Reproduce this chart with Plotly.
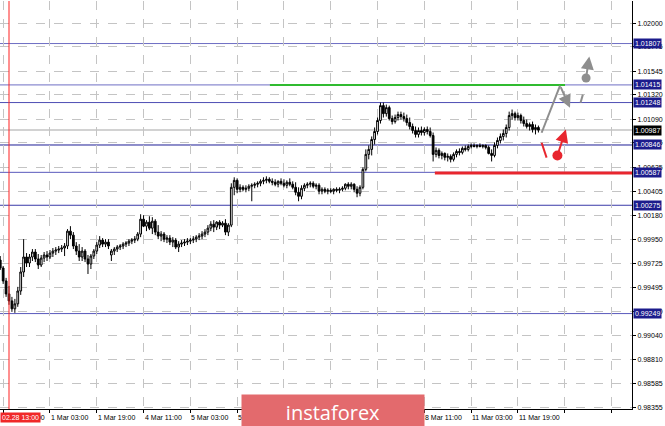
import plotly.graph_objects as go

# EURCHF-like H1 candles, bar index 0 = 02.28 13:00 (trading hours only)
bar_index = list(range(-3, 182))

bar_open = [
    0.99756, 0.99681, 0.99558, 0.99435, 0.99369, 0.99294, 0.99341, 0.99463, 0.99643, 0.99785,
    0.99728, 0.99785, 0.99832, 0.99766, 0.99709, 0.99775, 0.99804, 0.99785, 0.99822, 0.99841,
    0.99851, 0.99860, 0.99870, 0.99889, 1.00030, 0.99992, 0.99889, 0.99841, 0.99785, 0.99841,
    0.99766, 0.99718, 0.99794, 0.99841, 0.99898, 0.99945, 0.99907, 0.99926, 0.99804, 0.99841,
    0.99860, 0.99879, 0.99889, 0.99907, 0.99917, 0.99935, 0.99945, 0.99954, 1.00002, 1.00143,
    1.00077, 1.00115, 1.00058, 1.00124, 1.00021, 0.99983, 1.00002, 0.99954, 0.99964, 0.99926,
    0.99945, 0.99879, 0.99907, 0.99917, 0.99926, 0.99935, 0.99945, 0.99954, 0.99973, 0.99983,
    1.00002, 1.00021, 1.00058, 1.00096, 1.00068, 1.00115, 1.00087, 1.00105, 1.00021, 1.00087,
    1.00445, 1.00511, 1.00426, 1.00445, 1.00426, 1.00436, 1.00455, 1.00464, 1.00474, 1.00483,
    1.00502, 1.00511, 1.00521, 1.00502, 1.00493, 1.00474, 1.00502, 1.00483, 1.00464, 1.00493,
    1.00474, 1.00445, 1.00398, 1.00360, 1.00436, 1.00464, 1.00474, 1.00483, 1.00455, 1.00464,
    1.00408, 1.00426, 1.00408, 1.00417, 1.00408, 1.00426, 1.00417, 1.00426, 1.00436, 1.00474,
    1.00455, 1.00474, 1.00426, 1.00389, 1.00445, 1.00615, 1.00757, 1.00804, 1.00898, 1.00974,
    1.01078, 1.01219, 1.01143, 1.01200, 1.01096, 1.01068, 1.01106, 1.01134, 1.01115, 1.01096,
    1.01059, 1.01021, 1.00983, 1.00946, 1.00983, 1.00964, 1.00993, 1.00974, 1.00936, 1.00757,
    1.00795, 1.00747, 1.00766, 1.00729, 1.00738, 1.00710, 1.00757, 1.00785, 1.00776, 1.00814,
    1.00804, 1.00832, 1.00842, 1.00832, 1.00842, 1.00832, 1.00842, 1.00823, 1.00766, 1.00747,
    1.00842, 1.00889, 1.00927, 1.00955, 1.01012, 1.01125, 1.01143, 1.01106, 1.01125, 1.01078,
    1.01049, 1.01021, 1.01040, 1.00993, 1.01012,
]
bar_high = [
    0.99794, 0.99700, 0.99587, 0.99511, 0.99407, 0.99388, 0.99502, 0.99690, 0.99954, 0.99822,
    0.99813, 0.99860, 0.99860, 0.99813, 0.99804, 0.99832, 0.99841, 0.99851, 0.99870, 0.99879,
    0.99889, 0.99898, 0.99917, 1.00049, 1.00077, 1.00021, 0.99926, 0.99907, 0.99879, 0.99860,
    0.99804, 0.99813, 0.99860, 0.99926, 0.99983, 0.99964, 0.99954, 0.99954, 0.99860, 0.99879,
    0.99898, 0.99907, 0.99926, 0.99935, 0.99954, 0.99964, 0.99983, 1.00021, 1.00190, 1.00181,
    1.00134, 1.00171, 1.00162, 1.00143, 1.00087, 1.00030, 1.00021, 0.99992, 0.99992, 0.99973,
    0.99964, 0.99935, 0.99945, 0.99954, 0.99964, 0.99964, 0.99983, 0.99992, 1.00011, 1.00030,
    1.00049, 1.00087, 1.00124, 1.00134, 1.00124, 1.00134, 1.00124, 1.00143, 1.00105, 1.00483,
    1.00540, 1.00530, 1.00474, 1.00464, 1.00464, 1.00474, 1.00483, 1.00493, 1.00502, 1.00521,
    1.00540, 1.00549, 1.00540, 1.00530, 1.00521, 1.00511, 1.00530, 1.00521, 1.00511, 1.00530,
    1.00502, 1.00493, 1.00445, 1.00464, 1.00483, 1.00493, 1.00502, 1.00502, 1.00483, 1.00483,
    1.00445, 1.00445, 1.00436, 1.00436, 1.00436, 1.00445, 1.00445, 1.00455, 1.00483, 1.00493,
    1.00493, 1.00483, 1.00455, 1.00464, 1.00634, 1.00804, 1.00842, 1.00927, 1.01012, 1.01106,
    1.01248, 1.01248, 1.01229, 1.01219, 1.01125, 1.01134, 1.01162, 1.01162, 1.01153, 1.01134,
    1.01106, 1.01049, 1.01021, 1.01012, 1.01021, 1.01012, 1.01021, 1.01012, 1.00964, 1.00823,
    1.00814, 1.00785, 1.00776, 1.00766, 1.00757, 1.00776, 1.00804, 1.00814, 1.00832, 1.00842,
    1.00851, 1.00861, 1.00861, 1.00851, 1.00861, 1.00851, 1.00851, 1.00842, 1.00804, 1.00870,
    1.00917, 1.00955, 1.00993, 1.01040, 1.01162, 1.01182, 1.01162, 1.01153, 1.01143, 1.01115,
    1.01087, 1.01059, 1.01068, 1.01040, 1.01030,
]
bar_low = [
    0.99662, 0.99530, 0.99407, 0.99332, 0.99265, 0.99256, 0.99313, 0.99426, 0.99596, 0.99690,
    0.99690, 0.99747, 0.99737, 0.99671, 0.99690, 0.99737, 0.99747, 0.99766, 0.99785, 0.99804,
    0.99822, 0.99832, 0.99794, 0.99860, 0.99954, 0.99860, 0.99804, 0.99747, 0.99747, 0.99737,
    0.99624, 0.99671, 0.99766, 0.99813, 0.99870, 0.99879, 0.99879, 0.99860, 0.99747, 0.99804,
    0.99832, 0.99851, 0.99860, 0.99879, 0.99889, 0.99907, 0.99917, 0.99935, 0.99973, 1.00068,
    1.00030, 1.00040, 1.00002, 0.99992, 0.99954, 0.99935, 0.99926, 0.99917, 0.99898, 0.99879,
    0.99860, 0.99832, 0.99879, 0.99889, 0.99898, 0.99907, 0.99917, 0.99926, 0.99945, 0.99954,
    0.99973, 0.99992, 1.00030, 1.00021, 1.00040, 1.00049, 1.00068, 0.99992, 0.99983, 1.00068,
    1.00370, 1.00389, 1.00398, 1.00408, 1.00398, 1.00408, 1.00313, 1.00436, 1.00445, 1.00455,
    1.00474, 1.00483, 1.00483, 1.00464, 1.00455, 1.00445, 1.00464, 1.00445, 1.00436, 1.00455,
    1.00426, 1.00370, 1.00313, 1.00332, 1.00408, 1.00436, 1.00445, 1.00436, 1.00426, 1.00379,
    1.00379, 1.00389, 1.00379, 1.00389, 1.00379, 1.00398, 1.00389, 1.00408, 1.00417, 1.00426,
    1.00426, 1.00398, 1.00351, 1.00360, 1.00426, 1.00596, 1.00710, 1.00747, 1.00851, 1.00946,
    1.01049, 1.01106, 1.01115, 1.01078, 1.01040, 1.01049, 1.01078, 1.01087, 1.01068, 1.01030,
    1.00993, 1.00955, 1.00917, 1.00917, 1.00936, 1.00936, 1.00946, 1.00917, 1.00690, 1.00729,
    1.00719, 1.00710, 1.00700, 1.00690, 1.00681, 1.00690, 1.00729, 1.00747, 1.00757, 1.00785,
    1.00785, 1.00814, 1.00823, 1.00814, 1.00823, 1.00814, 1.00804, 1.00757, 1.00690, 1.00729,
    1.00814, 1.00861, 1.00889, 1.00917, 1.00983, 1.01087, 1.01078, 1.01078, 1.01049, 1.01021,
    1.01002, 1.00983, 1.00964, 1.00946, 1.00964,
]
bar_close = [
    0.99681, 0.99558, 0.99435, 0.99369, 0.99294, 0.99341, 0.99463, 0.99643, 0.99785, 0.99728,
    0.99785, 0.99832, 0.99766, 0.99709, 0.99775, 0.99804, 0.99785, 0.99822, 0.99841, 0.99851,
    0.99860, 0.99870, 0.99889, 1.00030, 0.99992, 0.99889, 0.99841, 0.99785, 0.99841, 0.99766,
    0.99718, 0.99794, 0.99841, 0.99898, 0.99945, 0.99907, 0.99926, 0.99889, 0.99841, 0.99860,
    0.99879, 0.99889, 0.99907, 0.99917, 0.99935, 0.99945, 0.99954, 1.00002, 1.00143, 1.00077,
    1.00115, 1.00058, 1.00124, 1.00021, 0.99983, 1.00002, 0.99954, 0.99964, 0.99926, 0.99945,
    0.99879, 0.99907, 0.99917, 0.99926, 0.99935, 0.99945, 0.99954, 0.99973, 0.99983, 1.00002,
    1.00021, 1.00058, 1.00096, 1.00068, 1.00115, 1.00087, 1.00105, 1.00021, 1.00087, 1.00445,
    1.00511, 1.00426, 1.00445, 1.00426, 1.00436, 1.00455, 1.00464, 1.00474, 1.00483, 1.00502,
    1.00511, 1.00521, 1.00502, 1.00493, 1.00474, 1.00502, 1.00483, 1.00464, 1.00493, 1.00474,
    1.00445, 1.00398, 1.00360, 1.00436, 1.00464, 1.00474, 1.00483, 1.00455, 1.00464, 1.00408,
    1.00426, 1.00408, 1.00417, 1.00408, 1.00426, 1.00417, 1.00426, 1.00436, 1.00474, 1.00455,
    1.00474, 1.00426, 1.00389, 1.00445, 1.00615, 1.00757, 1.00804, 1.00898, 1.00974, 1.01078,
    1.01219, 1.01143, 1.01200, 1.01096, 1.01068, 1.01106, 1.01134, 1.01115, 1.01096, 1.01059,
    1.01021, 1.00983, 1.00946, 1.00983, 1.00964, 1.00993, 1.00974, 1.00936, 1.00757, 1.00795,
    1.00747, 1.00766, 1.00729, 1.00738, 1.00710, 1.00757, 1.00785, 1.00776, 1.00814, 1.00804,
    1.00832, 1.00842, 1.00832, 1.00842, 1.00832, 1.00842, 1.00823, 1.00766, 1.00747, 1.00842,
    1.00889, 1.00927, 1.00955, 1.01012, 1.01125, 1.01143, 1.01106, 1.01125, 1.01078, 1.01049,
    1.01021, 1.01040, 1.00993, 1.01012, 1.00987,
]

# support / resistance levels
levels = [1.01807, 1.01415, 1.01248, 1.00846, 1.00587, 1.00275, 0.99249]
level_colors = ["#6e6ec4", "#6e6ec4", "#4e4eb4", "#1e1e96", "#5a5abc", "#3a3aa8", "#5a5abc"]
current_price = 1.00987

# axis ticks
price_ticks = [1.02000, 1.01775, 1.01545, 1.01320, 1.01090, 1.00865, 1.00635, 1.00405, 1.00180,
               0.99950, 0.99725, 0.99495, 0.99270, 0.99040, 0.98810, 0.98585, 0.98355]
time_ticks = [-2, 14, 30, 46, 62, 78, 94, 110, 126, 142, 158, 174, 190, 206]
label_ticks = [-2, 14, 30, 46, 62, 78, 142, 158, 174]
time_labels = ["28 Feb 11:00", "1 Mar 03:00", "1 Mar 19:00", "4 Mar 11:00", "5 Mar 03:00",
               "5 Mar 19:00", "8 Mar 11:00", "11 Mar 03:00", "11 Mar 19:00"]

# drawn forecast objects
green_x = [89.2, 190.1]
green_y = [1.01415, 1.01415]
red_x = [145.6, 213.0]
red_y = [1.00580, 1.00580]
grey_path_x = [182.1, 188.4]
grey_path_y = [1.00962, 1.01408]
grey_arrow = (188.4, 1.01408, 191.8, 1.01198)
grey_dash_x = [195.4, 196.2]
grey_dash_y = [1.01246, 1.01323]
grey_dot = (197.3, 1.01481)
grey_up = (197.3, 1.01481, 198.4, 1.01685)
red_slash_x = [182.1, 183.8]
red_slash_y = [1.00867, 1.00726]
red_dot = (187.5, 1.00747)
red_up = (187.5, 1.00747, 190.4, 1.00993)

x_range = [-3.08, 213.0]
y_range = [0.98345, 1.02210]

FONT = "Liberation Sans, Arial, sans-serif"
GREY = "#8e8e8e"
RED = "#e8262e"

fig = go.Figure()

# current price line and levels sit behind the candles and drawings
fig.add_hline(y=current_price, line=dict(color="#d2d2d2", width=2), layer="below")

for lv, col in zip(levels, level_colors):
    fig.add_hline(y=lv, line=dict(color=col, width=1), layer="below")

fig.add_vline(x=0, line=dict(color="#ff2020", width=1))

fig.add_trace(go.Candlestick(
    x=bar_index,
    open=bar_open, high=bar_high, low=bar_low, close=bar_close,
    increasing=dict(line=dict(color="black", width=1), fillcolor="white"),
    decreasing=dict(line=dict(color="black", width=1), fillcolor="black"),
    whiskerwidth=0,
    hoverinfo="skip",
    showlegend=False,
))

fig.add_trace(go.Scatter(x=green_x, y=green_y, mode="lines",
                         line=dict(color="#30bb30", width=2), showlegend=False, hoverinfo="skip"))
fig.add_trace(go.Scatter(x=red_x, y=red_y, mode="lines",
                         line=dict(color=RED, width=3), showlegend=False, hoverinfo="skip"))
fig.add_trace(go.Scatter(x=grey_path_x, y=grey_path_y, mode="lines",
                         line=dict(color=GREY, width=2), showlegend=False, hoverinfo="skip"))
fig.add_trace(go.Scatter(x=grey_dash_x, y=grey_dash_y, mode="lines",
                         line=dict(color=GREY, width=2), showlegend=False, hoverinfo="skip"))
fig.add_trace(go.Scatter(x=[grey_dot[0]], y=[grey_dot[1]], mode="markers",
                         marker=dict(color=GREY, size=9), showlegend=False, hoverinfo="skip"))
fig.add_trace(go.Scatter(x=red_slash_x, y=red_slash_y, mode="lines",
                         line=dict(color=RED, width=2), showlegend=False, hoverinfo="skip"))
fig.add_trace(go.Scatter(x=[red_dot[0]], y=[red_dot[1]], mode="markers",
                         marker=dict(color=RED, size=10), showlegend=False, hoverinfo="skip"))

for (x0, y0, x1, y1), col in [(grey_arrow, GREY), (grey_up, GREY), (red_up, RED)]:
    fig.add_annotation(x=x1, y=y1, ax=x0, ay=y0, xref="x", yref="y", axref="x", ayref="y",
                       showarrow=True, arrowhead=2, arrowsize=1.3, arrowwidth=2,
                       arrowcolor=col, text="")

# price boxes on the right axis
for lv in levels:
    fig.add_annotation(x=1, xref="paper", y=lv, yref="y", xanchor="left", xshift=1,
                       text=f"{lv:.5f}", showarrow=False, bgcolor="#1c1c8c", borderpad=1,
                       font=dict(family=FONT, size=7, color="white"))
fig.add_annotation(x=1, xref="paper", y=current_price, yref="y", xanchor="left", xshift=1,
                   text=f"{current_price:.5f}", showarrow=False, bgcolor="black", borderpad=1,
                   font=dict(family=FONT, size=7, color="white"))

# time labels, left aligned at their tick like MT4
for pos, lab in zip(label_ticks, time_labels):
    fig.add_annotation(x=pos, xref="x", y=0, yref="paper", yanchor="top", yshift=-3,
                       xanchor="left", xshift=-1, text=lab, showarrow=False,
                       font=dict(family=FONT, size=7, color="black"))
fig.add_annotation(x=0, xref="paper", y=0, yref="paper", yanchor="top", yshift=-3,
                   xanchor="left", text="02.28 13:00", showarrow=False, bgcolor="#f02828",
                   borderpad=1, font=dict(family=FONT, size=7, color="white"))

# watermark
fig.add_annotation(x=241 / 632, xref="paper", y=15 / 408, yref="paper", xanchor="left",
                   yanchor="top", width=182, height=34, text="instaforex", showarrow=False,
                   bgcolor="#e36a6d", borderpad=0, align="center", valign="middle",
                   font=dict(family="Open Sans, sans-serif", size=20, color="white"))

fig.update_layout(
    width=665, height=426,
    margin=dict(l=0, r=33, t=1, b=17),
    paper_bgcolor="white", plot_bgcolor="white",
    showlegend=False,
    boxgap=0.15,
    font=dict(family=FONT, size=7, color="black"),
    xaxis=dict(
        range=x_range, rangeslider=dict(visible=False),
        tickvals=time_ticks, showticklabels=False,
        ticks="outside", ticklen=3, tickcolor="black",
        showgrid=True, gridcolor="#c4c4c4", griddash="dash", gridwidth=1,
        showline=True, linecolor="black", linewidth=1,
        zeroline=False, fixedrange=True,
    ),
    yaxis=dict(
        range=y_range, side="right",
        tickvals=price_ticks, ticktext=[f"{t:.5f}" for t in price_ticks],
        ticks="outside", ticklen=3, tickcolor="black",
        tickfont=dict(family=FONT, size=7, color="black"),
        showgrid=True, gridcolor="#c4c4c4", griddash="dash", gridwidth=1,
        showline=True, linecolor="black", linewidth=1,
        zeroline=False, fixedrange=True,
    ),
)

# the page body has a default 8px margin; drop it so the figure fills the window
fig.write_html("out.html", config={"displayModeBar": False},
               post_script="document.body.style.margin='0px';")
